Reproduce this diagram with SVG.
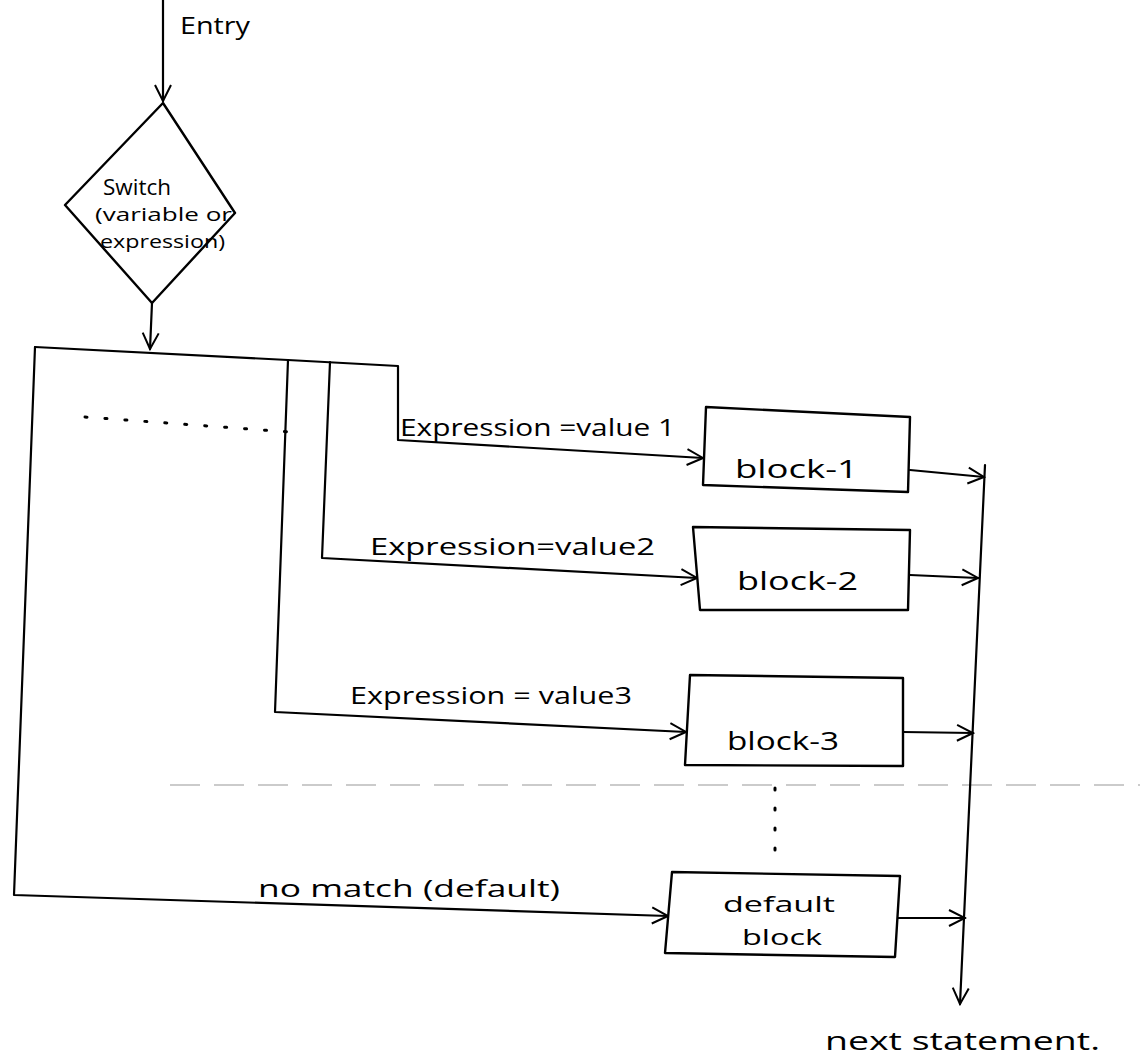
<svg xmlns="http://www.w3.org/2000/svg" width="1142" height="1064" viewBox="0 0 1142 1064">
<style>
.ln{fill:none;stroke:#000;stroke-width:2.2;stroke-linecap:round;stroke-linejoin:round}
.box{fill:#fff;stroke:#000;stroke-width:2.4;stroke-linejoin:round}
.t{font-family:"Open Sans","Liberation Sans",sans-serif;fill:#000}
.dot{fill:none;stroke:#000;stroke-width:3;stroke-dasharray:2 18;stroke-linecap:round}
</style>
<defs>
<marker id="arr" viewBox="0 0 20 20" refX="18" refY="10" markerWidth="20" markerHeight="20" markerUnits="userSpaceOnUse" orient="auto">
<path d="M2,2 L18,10 L2,18" fill="none" stroke="#000" stroke-width="2"/>
</marker>
</defs>
<rect width="1142" height="1064" fill="#fff"/>
<line x1="170" y1="785" x2="1140" y2="785" stroke="#bbb" stroke-width="1.5" stroke-dasharray="30 14"/>
<g id="connectors">
<path class="ln" d="M163,0 L163,101" marker-end="url(#arr)"/>
<path class="ln" d="M152,303 L150,349" marker-end="url(#arr)"/>
<path class="ln" d="M35,347 L288,360 L398,366 L398,440 L703,458" marker-end="url(#arr)"/>
<path class="ln" d="M330,362 L322,558 L697,578" marker-end="url(#arr)"/>
<path class="ln" d="M288,360 L275,712 L686,732" marker-end="url(#arr)"/>
<path class="ln" d="M35,347 L14,895 L668,916" marker-end="url(#arr)"/>
<path class="ln" d="M910,470 L984,477" marker-end="url(#arr)"/>
<path class="ln" d="M910,575 L978,578" marker-end="url(#arr)"/>
<path class="ln" d="M903,732 L973,733" marker-end="url(#arr)"/>
<path class="ln" d="M898,918 L965,918" marker-end="url(#arr)"/>
<path class="ln" d="M985,465 L960,1004" marker-end="url(#arr)"/>
<path class="dot" d="M85,417 L290,432"/>
<path class="dot" d="M775,788 L775,850"/>
</g>
<g id="entry"><text class="t" x="180" y="34" font-size="24" textLength="70" lengthAdjust="spacingAndGlyphs">Entry</text></g>
<g id="switch">
<path class="box" d="M163,103 L235,213 L152,303 L65,205 Z"/>
<text class="t" x="103" y="195" font-size="22" textLength="68" lengthAdjust="spacingAndGlyphs">Switch</text>
<text class="t" x="95" y="221" font-size="19" textLength="137" lengthAdjust="spacingAndGlyphs">(variable or</text>
<text class="t" x="100" y="248" font-size="19" textLength="125" lengthAdjust="spacingAndGlyphs">expression)</text>
</g>
<g id="label1"><text class="t" x="400" y="436" font-size="24" textLength="275" lengthAdjust="spacingAndGlyphs">Expression =value 1</text></g>
<g id="label2"><text class="t" x="370" y="555" font-size="24" textLength="285" lengthAdjust="spacingAndGlyphs">Expression=value2</text></g>
<g id="label3"><text class="t" x="350" y="704" font-size="24" textLength="282" lengthAdjust="spacingAndGlyphs">Expression = value3</text></g>
<g id="label4"><text class="t" x="258" y="897" font-size="24" textLength="302" lengthAdjust="spacingAndGlyphs">no match (default)</text></g>
<g id="block1">
<path class="box" d="M706,407 L910,417 L908,492 L703,485 Z"/>
<text class="t" x="735" y="478" font-size="26" textLength="123" lengthAdjust="spacingAndGlyphs">block-1</text>
</g>
<g id="block2">
<path class="box" d="M693,527 L910,530 L908,610 L700,610 Z"/>
<text class="t" x="737" y="590" font-size="26" textLength="121" lengthAdjust="spacingAndGlyphs">block-2</text>
</g>
<g id="block3">
<path class="box" d="M690,675 L903,678 L903,766 L685,765 Z"/>
<text class="t" x="727" y="750" font-size="26" textLength="112" lengthAdjust="spacingAndGlyphs">block-3</text>
</g>
<g id="defaultblock">
<path class="box" d="M672,872 L900,876 L895,957 L665,953 Z"/>
<text class="t" x="723" y="912" font-size="22" textLength="112" lengthAdjust="spacingAndGlyphs">default</text>
<text class="t" x="742" y="945" font-size="22" textLength="80" lengthAdjust="spacingAndGlyphs">block</text>
</g>
<g id="next"><text class="t" x="825" y="1050" font-size="26" textLength="275" lengthAdjust="spacingAndGlyphs">next statement.</text></g>
</svg>
